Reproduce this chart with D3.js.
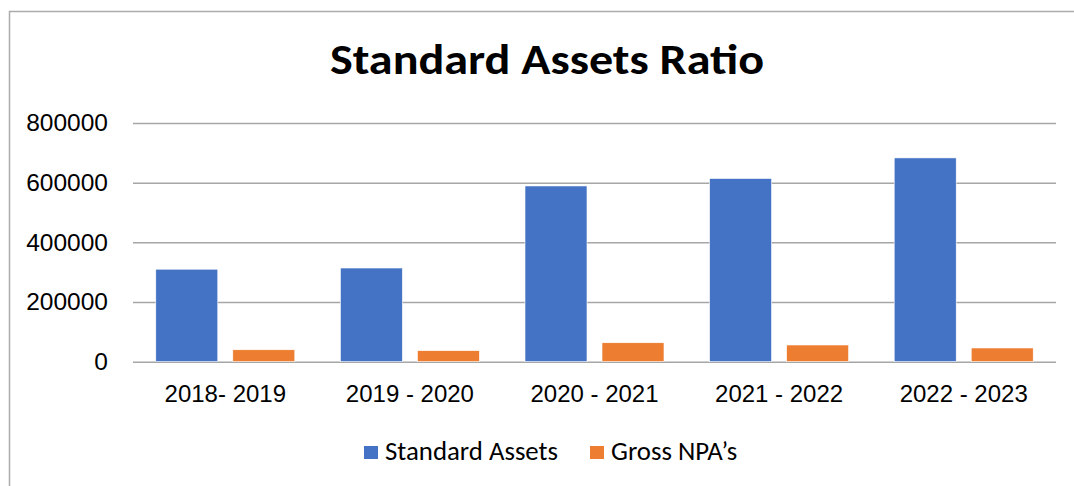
<!DOCTYPE html>
<html>
<head>
<meta charset="utf-8">
<script src="https://cdn.jsdelivr.net/npm/d3@7"></script>
<style>
  body { margin: 0; background: #fff; }
  svg { display: block; font-family: Carlito, Lato, sans-serif; }
</style>
</head>
<body>
<svg id="chart" width="1074" height="486"></svg>
<script>
let years = ['2018- 2019', '2019 - 2020', '2020 - 2021', '2021 - 2022', '2022 - 2023']
let series = ['Standard Assets', 'Gross NPA\u2019s']
let standardAssets = [310000, 314000, 589000, 614000, 683000]
let grossNpa = [40000, 37000, 63500, 56000, 46000]
let yTicks = [0, 200000, 400000, 600000, 800000]

let colors = ['#4472C4', '#ED7D31']

let svg = d3.select('#chart')

// outer frame of the chart, runs off the right and bottom edge
svg.append('rect')
  .attr('x', 9.5).attr('y', 11.5)
  .attr('width', 1200).attr('height', 600)
  .attr('fill', 'none')
  .attr('stroke', '#ababab')
  .attr('stroke-width', 1.5)

// title is a bit wider in the original, so stretch it a little
svg.append('text')
  .attr('transform', 'translate(547,74) scale(1.12,1)')
  .attr('text-anchor', 'middle')
  .style('font-size', '43px')
  .style('font-weight', 'bold')
  .text('Standard Assets Ratio')

let y = d3.scaleLinear().domain([0, 800000]).range([361.7, 123])
let x = d3.scaleBand().domain(years).range([133, 1056]).paddingInner(0.247).paddingOuter(0.1235)
let x1 = d3.scaleBand().domain(series).range([0, x.bandwidth()]).paddingInner(0.195)

// gridlines + y labels
let yAxis = svg.append('g')
  .attr('transform', 'translate(133,0)')
  .call(d3.axisLeft(y).tickValues(yTicks).tickSize(-923).tickSizeOuter(0).tickPadding(25).tickFormat(d3.format('d')))
yAxis.select('.domain').remove()
yAxis.selectAll('line').attr('stroke', '#a6a6a6').attr('stroke-width', 1.5)
yAxis.selectAll('text').style('font-size', '24.5px').attr('fill', '#000').attr('font-family', null)

let rows = years.map((d, i) => ({ year: d, values: [standardAssets[i], grossNpa[i]] }))

let groups = svg.selectAll('.grp')
  .data(rows)
  .enter()
  .append('g')
  .attr('transform', d => `translate(${x(d.year)},0)`)

groups.selectAll('rect')
  .data(d => d.values.map((v, i) => ({ key: series[i], value: v, i: i })))
  .enter()
  .append('rect')
  .attr('x', d => x1(d.key))
  .attr('y', d => y(d.value))
  .attr('width', x1.bandwidth())
  .attr('height', d => y(0) - y(d.value))
  .attr('fill', d => colors[d.i])
  .attr('stroke', '#fff')
  .attr('stroke-width', 0.6)

// x labels
let xAxis = svg.append('g')
  .attr('transform', 'translate(0,361.7)')
  .call(d3.axisBottom(x).tickSize(0).tickPadding(23))
xAxis.select('.domain').remove()
xAxis.selectAll('text').style('font-size', '24px').attr('fill', '#000').attr('font-family', null)

// legend
let legendX = [364, 590]
let legend = svg.selectAll('.leg')
  .data(series)
  .enter()
  .append('g')
  .attr('transform', (d, i) => `translate(${legendX[i]},446)`)
legend.append('rect')
  .attr('width', 14).attr('height', 13)
  .attr('fill', (d, i) => colors[i])
legend.append('text')
  .attr('x', 21).attr('y', 14)
  .style('font-size', '26.8px')
  .text(d => d)
</script>
</body>
</html>
